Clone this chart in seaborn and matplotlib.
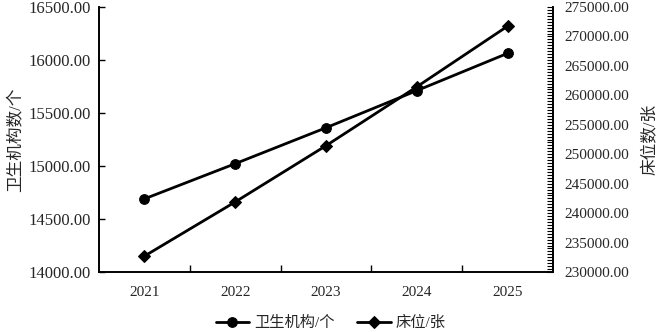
import numpy as np
import pandas as pd
import matplotlib
matplotlib.use("Agg")
from matplotlib import pyplot as plt
from matplotlib.ticker import MultipleLocator, FixedLocator, FuncFormatter
import seaborn as sns

years = ["2021", "2022", "2023", "2024", "2025"]
institutions = [14690, 15022, 15361, 15711, 16063]
beds = [232700, 241900, 251450, 261450, 271750]

sns.set_style("ticks")
plt.rcParams["font.family"] = ["Liberation Serif", "Noto Sans CJK SC", "DejaVu Sans"]
plt.rcParams["axes.unicode_minus"] = False

df = pd.DataFrame({"pos": np.arange(len(years)), "inst": institutions, "beds": beds})

fig = plt.figure(figsize=(6.61, 3.32), dpi=100)
ax = fig.add_axes([0.1498, 0.1807, 0.6868, 0.7982])
ax2 = ax.twinx()

sns.lineplot(data=df, x="pos", y="inst", ax=ax, color="black", marker="o",
             markersize=7, linewidth=2, markeredgecolor="black", label="卫生机构/个", legend=False)
sns.lineplot(data=df, x="pos", y="beds", ax=ax2, color="black", marker="D",
             markersize=6, linewidth=2, markeredgecolor="black", label="床位/张", legend=False)

ax.set_xlim(-0.5, len(years) - 0.5)
ax.set_ylim(14000, 16500)
ax2.set_ylim(230000, 275000)

fmt = FuncFormatter(lambda v, p: f"{v:.2f}")
ax.yaxis.set_major_locator(MultipleLocator(500))
ax.yaxis.set_major_formatter(fmt)
ax2.yaxis.set_major_locator(MultipleLocator(5000))
ax2.yaxis.set_minor_locator(MultipleLocator(500))
ax2.yaxis.set_major_formatter(fmt)

ax.set_xticks(df["pos"])
ax.set_xticklabels(years)
ax.xaxis.set_minor_locator(FixedLocator(np.arange(0.5, len(years) - 1, 1.0)))
ax.tick_params(axis="x", which="major", length=0, pad=10, labelsize=11)
ax.tick_params(axis="x", which="minor", direction="in", length=5, width=1, color="black")
ax.tick_params(axis="y", which="major", direction="in", length=4, width=1, labelsize=12, pad=6, color="black")
ax2.tick_params(axis="y", which="both", direction="in", length=4, width=0.8, labelsize=11, pad=8, color="black")

for a in (ax, ax2):
    a.spines["top"].set_visible(False)
    for s in ("left", "right", "bottom"):
        a.spines[s].set_color("black")
        a.spines[s].set_linewidth(1.2)
    a.set_xlabel("")

ax.set_ylabel("卫生机构数/个", fontsize=12, labelpad=3)
ax2.set_ylabel("床位数/张", fontsize=12, labelpad=9)

h1, l1 = ax.get_legend_handles_labels()
h2, l2 = ax2.get_legend_handles_labels()
fig.legend(h1 + h2, l1 + l2, loc="lower center", bbox_to_anchor=(0.5, -0.035), ncol=2,
           frameon=False, fontsize=11, handlelength=2.2, columnspacing=1.5, handletextpad=0.3)

fig.savefig("out.png", dpi=100)
